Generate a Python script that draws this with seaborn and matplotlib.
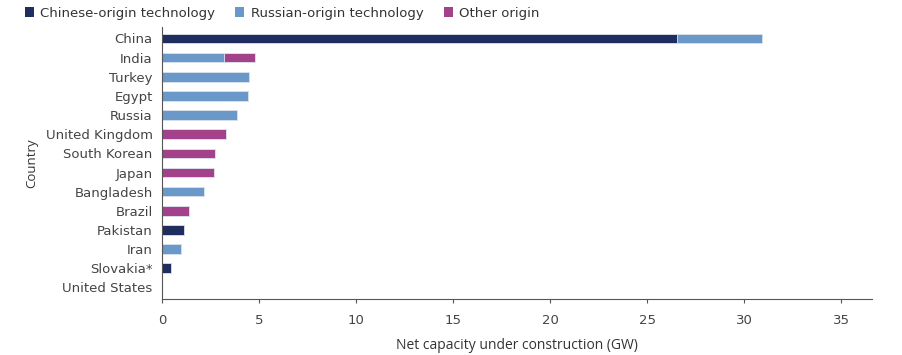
import numpy as np
import pandas as pd
import seaborn as sns
import matplotlib.pyplot as plt
from matplotlib.patches import Patch

countries = ['China', 'India', 'Turkey', 'Egypt', 'Russia', 'United Kingdom',
             'South Korean', 'Japan', 'Bangladesh', 'Brazil', 'Pakistan',
             'Iran', 'Slovakia*', 'United States']
chinese = [26.55, 0, 0, 0, 0, 0, 0, 0, 0, 0, 1.1, 0, 0.43, 0]
russian = [4.35, 3.16, 4.47, 4.4, 3.83, 0, 0, 0, 2.17, 0, 0, 0.96, 0, 0]
other = [0, 1.6, 0, 0, 0, 3.27, 2.7, 2.65, 0, 1.36, 0, 0, 0, 0]

labels = ['Chinese-origin technology', 'Russian-origin technology', 'Other origin']
colors = ['#1f2e5e', '#6a98c8', '#a3418b']

df = pd.DataFrame({'Country': countries, 'chinese': chinese,
                   'russian': russian, 'other': other})
df['cn_ru'] = df['chinese'] + df['russian']
df['total'] = df['cn_ru'] + df['other']

sns.set_style('white')
plt.rcParams['font.family'] = ['DejaVu Sans']

fig, ax = plt.subplots(figsize=(9.02, 3.55), dpi=100)
fig.subplots_adjust(left=0.18, right=0.967, top=0.924, bottom=0.158)

# stacked bars drawn back-to-front
for col, c in zip(['total', 'cn_ru', 'chinese'], colors[::-1]):
    sns.barplot(data=df, x=col, y='Country', orient='h', color=c, width=0.5,
                edgecolor='#dde6f0', linewidth=0.6, saturation=1, ax=ax)

ax.set_xlim(0, 36.6)
ax.set_ylim(13.6, -0.6)
ax.set_xticks(np.arange(0, 36, 5))
ax.set_xlabel('Net capacity under construction (GW)', fontsize=10,
              family='Open Sans', color='#333333', labelpad=8)
ax.set_ylabel('Country', fontsize=9.5, family='Open Sans', color='#333333',
              labelpad=5)
ax.tick_params(axis='x', length=3, color='#555555', labelsize=9.5,
               labelcolor='#444444', pad=8, bottom=True)
ax.tick_params(axis='y', length=0, labelsize=9.5, labelcolor='#444444', pad=7)
sns.despine(ax=ax)
for s in ['left', 'bottom']:
    ax.spines[s].set_color('#555555')
    ax.spines[s].set_linewidth(0.8)

handles = [Patch(facecolor=c, edgecolor='none') for c in colors]
fig.legend(handles, labels, loc='upper left', bbox_to_anchor=(0.014, 1.015),
           ncol=3, frameon=False, fontsize=9.5, handlelength=0.7,
           handleheight=0.7, handletextpad=0.5, columnspacing=1.5,
           labelcolor='#333333')

fig.savefig('out.png', dpi=100)
